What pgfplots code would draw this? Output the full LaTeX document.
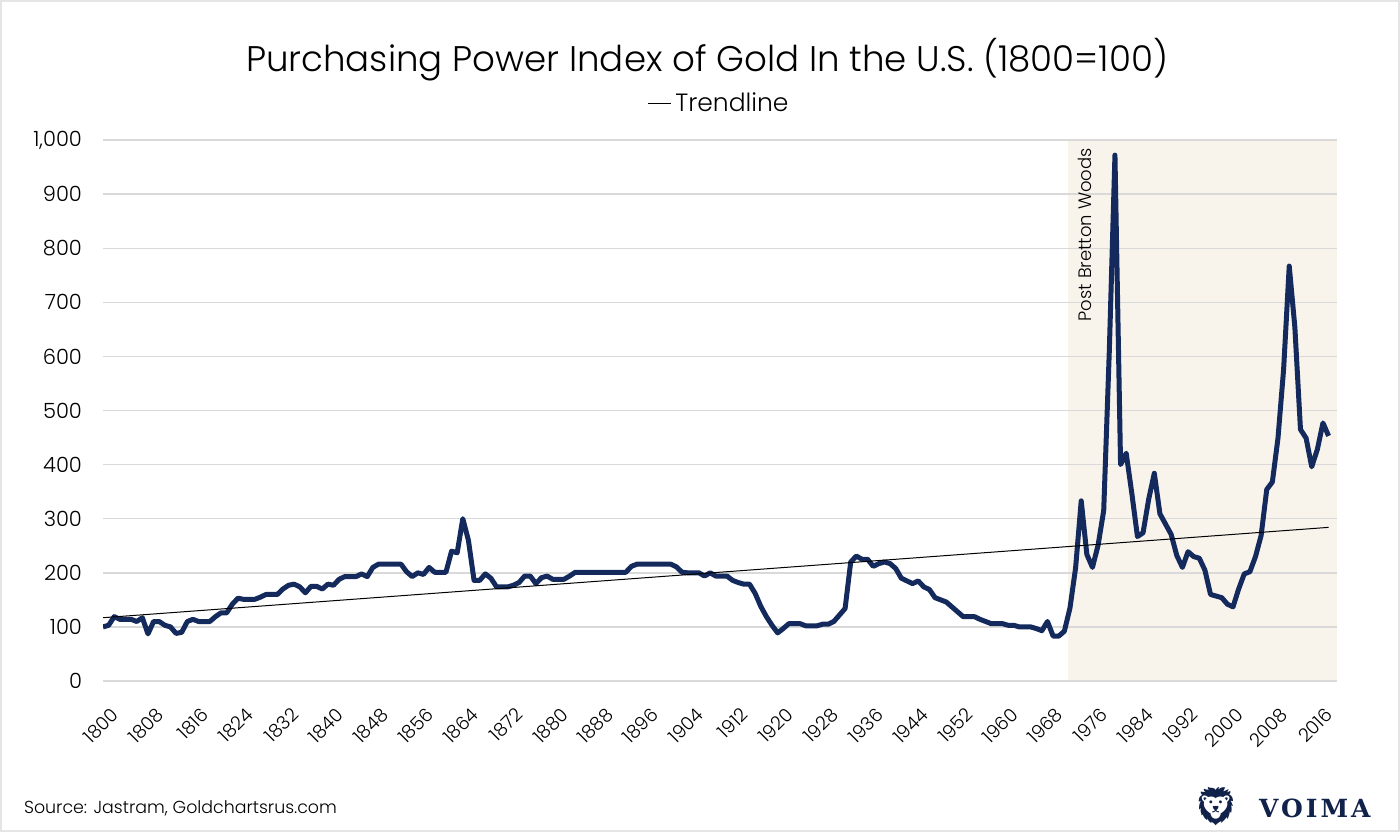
\documentclass[border=0pt]{standalone}
\usepackage{fontspec}
\IfFontExistsTF{Poppins Light}{\setmainfont{Poppins Light}}{\setmainfont{Poppins}}
\newfontfamily\logofont{DejaVu Serif}[LetterSpace=12]
\newfontfamily\emojifont{Noto Emoji}
\usepackage{pgfplots}
\pgfplotsset{compat=1.18}
\definecolor{navy}{HTML}{14295C}
\definecolor{shade}{HTML}{F8F4EC}
\definecolor{gridc}{HTML}{D9D9D9}

\begin{document}
\begin{tikzpicture}
\draw[gray!20, line width=1.2pt] (0.6pt,0.6pt) rectangle (699.4pt,415.4pt);
\begin{axis}[
  at={(51.5pt,75.5pt)}, anchor=south west,
  scale only axis, width=617pt, height=270.5pt,
  xmin=1800, xmax=2019.5, ymin=0, ymax=1000,
  xtick={1800,1808,...,2016},
  ytick={0,100,...,1000},
  axis line style={draw=none},
  major tick style={draw=none},
  ymajorgrids, grid style={gridc, line width=0.7pt},
  set layers,
  /pgf/number format/assume math mode=true,
  x tick label style={rotate=45, anchor=east, yshift=-15pt, xshift=-3pt,
    /pgf/number format/1000 sep={}, font=\fontsize{9.3}{10}\selectfont},
  y tick label style={xshift=-7pt,
    /pgf/number format/1000 sep={,}, font=\fontsize{10.5}{11}\selectfont},
  legend style={at={(0.5,1.068)}, anchor=center, draw=none, fill=none,
    font=\fontsize{12.5}{14}\selectfont, inner sep=1pt},
  legend image code/.code={\draw[#1] (0cm,0cm) -- (0.4cm,0cm);},
]
% post Bretton Woods era
\addplot[on layer=axis background, fill=shade, draw=none, forget plot]
  coordinates {(1971.7,1000) (2019.5,1000)} \closedcycle;

% purchasing power index
\addplot[navy, line width=2.5pt, line join=round, forget plot] coordinates {
(1800,100) (1801,103) (1802,119) (1803,114) (1804,114) (1805,114) (1806,110)
(1807,117) (1808,87) (1809,110) (1810,110) (1811,103) (1812,100) (1813,88)
(1814,90) (1815,110) (1816,114) (1817,110) (1818,110) (1819,110) (1820,119)
(1821,126) (1822,126) (1823,142) (1824,153) (1825,151) (1826,151) (1827,151)
(1828,155) (1829,160) (1830,160) (1831,160) (1832,170) (1833,177) (1834,179)
(1835,174) (1836,163) (1837,175) (1838,175) (1839,170) (1840,179) (1841,177)
(1842,188) (1843,193) (1844,193) (1845,193) (1846,198) (1847,193) (1848,210)
(1849,216) (1850,216) (1851,216) (1852,216) (1853,216) (1854,202) (1855,193)
(1856,200) (1857,197) (1858,210) (1859,201) (1860,201) (1861,201) (1862,240)
(1863,237) (1864,300) (1865,260) (1866,186) (1867,186) (1868,198) (1869,190)
(1870,174) (1871,174) (1872,174) (1873,177) (1874,182) (1875,194) (1876,194)
(1877,180) (1878,191) (1879,194) (1880,188) (1881,188) (1882,188) (1883,194)
(1884,201) (1885,201) (1886,201) (1887,201) (1888,201) (1889,201) (1890,201)
(1891,201) (1892,201) (1893,201) (1894,212) (1895,216) (1896,216) (1897,216)
(1898,216) (1899,216) (1900,216) (1901,216) (1902,211) (1903,201) (1904,200)
(1905,200) (1906,200) (1907,194) (1908,200) (1909,194) (1910,194) (1911,194)
(1912,186) (1913,182) (1914,179) (1915,179) (1916,162) (1917,138) (1918,119)
(1919,103) (1920,89) (1921,97) (1922,106) (1923,106) (1924,106) (1925,102)
(1926,102) (1927,102) (1928,105) (1929,105) (1930,110) (1931,122) (1932,134)
(1933,220) (1934,231) (1935,225) (1936,225) (1937,212) (1938,217) (1939,220)
(1940,217) (1941,208) (1942,190) (1943,185) (1944,180) (1945,185) (1946,174)
(1947,169) (1948,154) (1949,150) (1950,146) (1951,137) (1952,128) (1953,119)
(1954,119) (1955,119) (1956,114) (1957,110) (1958,106) (1959,106) (1960,106)
(1961,103) (1962,103) (1963,100) (1964,100) (1965,100) (1966,97) (1967,93)
(1968,110) (1969,83) (1970,83) (1971,92) (1972,135) (1973,209) (1974,333)
(1975,234) (1976,210) (1977,251) (1978,315) (1979,611) (1980,972) (1981,400)
(1982,421) (1983,347) (1984,267) (1985,274) (1986,336) (1987,384) (1988,309)
(1989,290) (1990,271) (1991,232) (1992,210) (1993,239) (1994,230) (1995,227)
(1996,205) (1997,160) (1998,157) (1999,154) (2000,142) (2001,137) (2002,170)
(2003,198) (2004,202) (2005,230) (2006,269) (2007,354) (2008,368) (2009,449)
(2010,576) (2011,767) (2012,654) (2013,465) (2014,449) (2015,396) (2016,428)
(2017,477) (2018,453)
};

% linear trend
\addplot[black, line width=0.5pt] coordinates {(1800,117) (2018,284)};
\addlegendentry{Trendline}

\node[rotate=90, anchor=east, font=\fontsize{9}{10}\selectfont]
  at (axis cs:1974.6,998) {Post Bretton Woods};
\end{axis}

\node[font=\fontsize{17.8}{20}\selectfont] at (353.5pt,386pt)
  {Purchasing Power Index of Gold In the U.S. (1800=100)};
\node[anchor=west, font=\fontsize{8.7}{10}\selectfont] at (8.5pt,12pt)
  {Source: Jastram, Goldchartsrus.com};
\node[text=navy!80!black, font=\emojifont\fontsize{19}{20}\selectfont, inner sep=0pt]
  at (608pt,13pt) {🦁};
\node[anchor=west, text=navy!80!black, font=\logofont\bfseries\fontsize{12.5}{14}\selectfont]
  at (626pt,12pt) {VOIMA};
\pgfresetboundingbox
\path[use as bounding box] (0pt,0pt) rectangle (700pt,416pt);
\end{tikzpicture}
\end{document}
